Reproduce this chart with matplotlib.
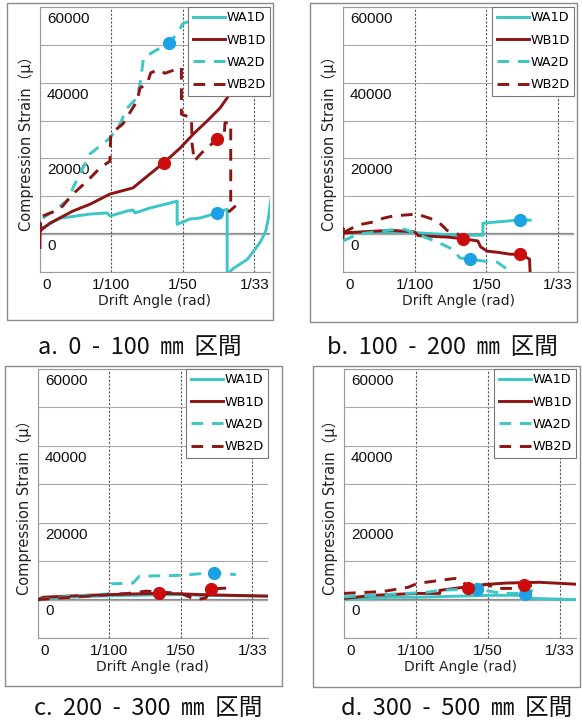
import matplotlib
matplotlib.use("Agg")
import matplotlib.pyplot as plt
from matplotlib.patches import Rectangle
from matplotlib.transforms import ScaledTranslation

# ---------------- data ----------------
x_tick_vals = [0, 0.01, 0.02, 0.03]
x_tick_labels = ["0", "1/100", "1/50", "1/33"]
y_label_vals = [0, 20000, 40000, 60000]
y_label_text = ["0", "20000", "40000", "60000"]
series_names = ["WA1D", "WB1D", "WA2D", "WB2D"]
captions = ["a.  0  -  100  ㎜  区間", "b.  100  -  200  ㎜  区間",
            "c.  200  -  300  ㎜  区間", "d.  300  -  500  ㎜  区間"]

# panel a (0-100 mm)
a_wa1d_x = [0, .0028, .0070, .0094, .0098, .0122, .0130, .0133, .0154, .0192, .0192, .0210, .0225,
            .0248, .0262, .0262, .0271, .0290, .0300, .0309, .0316, .0320, .0323]
a_wa1d_y = [1300, 4200, 5300, 5600, 4800, 6100, 6400, 5600, 6900, 8700, 2600, 4000, 4300,
            5600, 6600, -10600, -9000, -6700, -4300, -1900, 800, 4500, 9000]
a_wb1d_x = [0, 0, 0.0001, .0014, .0046, .0070, .0098, .0130, .0154, .0173, .0196, .0215, .0234, .0252, .0262, .0270]
a_wb1d_y = [-3500, 3000, 1000, 2900, 6100, 7900, 10600, 12200, 15900, 18800, 22700, 26500, 29900, 33300, 36000, 38500]
a_wa2d_x = [0.0004, .0028, .0042, .0046, .0056, .0070, .0098, .0112, .0122, .0136, .0140, .0145, .0161, .0180, .0192, .0200, .0210]
a_wa2d_y = [4200, 7400, 9500, 12200, 15900, 21200, 25400, 29100, 33300, 36000, 39700, 46600, 48400, 50500, 52900, 55600, 56300]
a_wb2d_x = [0.0004, .0028, .0046, .0066, .0084, .0098, .0099, .0116, .0136, .0140, .0150, .0155, .0165, .0175, .0196, .0198,
            .0198, .0212, .0213, .0216, .0226, .0248, .0258, .0259, .0267, .0267, .0265, .0274]
a_wb2d_y = [4800, 6600, 10600, 14000, 17500, 19300, 26500, 29100, 35200, 38600, 39700, 42600, 43400, 42500, 43900, 44000,
            31700, 30700, 23800, 19300, 21400, 25100, 26500, 29400, 29400, 9000, 6000, 7500]
a_wa_mk_x = [.0180, .0248]
a_wa_mk_y = [50500, 5600]
a_wb_mk_x = [.0173, .0248]
a_wb_mk_y = [18800, 25100]

# panel b (100-200 mm)
b_wa1d_x = [0, .0067, .0100, .0160, .0195, .0195, .0226, .0243, .0261]
b_wa1d_y = [400, 600, 400, -300, -300, 2900, 3400, 3700, 3700]
b_wb1d_x = [0, 0, 0, .0035, .0067, .0100, .0105, .0147, .0167, .0188, .0192, .0201, .0216, .0233, .0247, .0260, .0261]
b_wb1d_y = [-1500, 1500, 300, 700, 1000, 600, -400, -800, -1200, -1800, -3400, -4500, -4800, -5300, -5300, -6600, -11000]
b_wa2d_x = [0, .0021, .0066, .0086, .0103, .0117, .0135, .0153, .0163, .0177, .0195, .0215, .0233]
b_wa2d_y = [-1800, 0, 1100, 1300, 0, -1000, -2400, -4000, -6300, -6600, -7100, -7400, -9800]
b_wb2d_x = [0, .0020, .0042, .0056, .0070, .0103, .0121, .0135, .0145, .0160, .0167]
b_wb2d_y = [300, 2400, 3200, 4200, 4800, 5300, 4200, 2900, 1000, 0, -1000]
b_wa_mk_x = [.0177, .0247]
b_wa_mk_y = [-6600, 3700]
b_wb_mk_x = [.0167, .0247]
b_wb_mk_y = [-1200, -5300]

# panel c (200-300 mm)
c_wa1d_x = [0, .0007, .0040, .0100, .0165, .0200, .0226, .0321]
c_wa1d_y = [-300, 300, 600, 1000, 1200, 1300, 1100, 900]
c_wb1d_x = [0, .0007, .0040, .0100, .0165, .0200, .0226, .0321]
c_wb1d_y = [0, 600, 900, 1300, 1600, 1500, 1300, 900]
c_wa2d_x = [0, .0040, .0100, .0102, .0133, .0142, .0200, .0244, .0277]
c_wa2d_y = [0, 800, 1500, 4100, 4300, 6100, 6300, 7000, 6500]
c_wb2d_x = [0, .0100, .0133, .0151, .0200, .0221, .0235, .0242, .0267, .0274]
c_wb2d_y = [0, 1300, 1700, 2200, 1600, 0, 400, 2800, 3000, 2200]
c_wa_mk_x = [.0247]
c_wa_mk_y = [7000]
c_wb_mk_x = [.0170, .0242]
c_wb_mk_y = [1600, 2800]

# panel d (300-500 mm)
d_wa1d_x = [0, .0064, .0101, .0202, .0253, .0262, .0317, .0323]
d_wa1d_y = [0, 600, 600, 1100, 1100, 300, 0, 0]
d_wb1d_x = [0, .0040, .0101, .0133, .0133, .0178, .0202, .0225, .0271, .0322]
d_wb1d_y = [300, 1100, 1600, 1600, 2400, 3500, 4000, 4300, 4500, 4000]
d_wa2d_x = [0, .0087, .0115, .0133, .0170, .0185, .0220, .0250, .0262]
d_wa2d_y = [700, 1600, 1900, 2400, 2700, 2700, 1600, 1600, 2400]
d_wb2d_x = [0, .0054, .0089, .0102, .0133, .0154, .0165, .0172, .0198, .0212, .0234, .0250, .0267]
d_wb2d_y = [1600, 2100, 3200, 4200, 5000, 5500, 4800, 2900, 4000, 2900, 2900, 3700, 3500]
d_wa_mk_x = [.0185, .0251]
d_wa_mk_y = [2700, 1400]
d_wb_mk_x = [.0172, .0250]
d_wb_mk_y = [2900, 3700]

panels = [
    dict(lines=[(a_wa1d_x, a_wa1d_y), (a_wb1d_x, a_wb1d_y), (a_wa2d_x, a_wa2d_y), (a_wb2d_x, a_wb2d_y)],
         wa_mk=(a_wa_mk_x, a_wa_mk_y), wb_mk=(a_wb_mk_x, a_wb_mk_y)),
    dict(lines=[(b_wa1d_x, b_wa1d_y), (b_wb1d_x, b_wb1d_y), (b_wa2d_x, b_wa2d_y), (b_wb2d_x, b_wb2d_y)],
         wa_mk=(b_wa_mk_x, b_wa_mk_y), wb_mk=(b_wb_mk_x, b_wb_mk_y)),
    dict(lines=[(c_wa1d_x, c_wa1d_y), (c_wb1d_x, c_wb1d_y), (c_wa2d_x, c_wa2d_y), (c_wb2d_x, c_wb2d_y)],
         wa_mk=(c_wa_mk_x, c_wa_mk_y), wb_mk=(c_wb_mk_x, c_wb_mk_y)),
    dict(lines=[(d_wa1d_x, d_wa1d_y), (d_wb1d_x, d_wb1d_y), (d_wa2d_x, d_wa2d_y), (d_wb2d_x, d_wb2d_y)],
         wa_mk=(d_wa_mk_x, d_wa_mk_y), wb_mk=(d_wb_mk_x, d_wb_mk_y)),
]

# ---------------- layout (pixels) ----------------
W, H = 582, 722
axes_px = [(40, 7, 270, 272), (343, 7, 574, 272), (38, 369, 268, 638), (344, 369, 576, 638)]
frames_px = [(7, 3, 273, 320), (310, 3, 577, 322), (5, 366, 282, 686), (313, 366, 580, 687)]
caption_px = [(140, 347), (442, 347), (148, 708), (457, 708)]

CYAN = "#3CC6C6"
DRED = "#8E1414"
MK_BLUE = "#1CA2E4"
MK_RED = "#CC0C0C"
styles = [dict(color=CYAN, ls="-"), dict(color=DRED, ls="-"),
          dict(color=CYAN, dashes=(4, 3)), dict(color=DRED, dashes=(4, 3))]

fig = plt.figure(figsize=(W / 100, H / 100), dpi=100)

for (fx0, fy0, fx1, fy1) in frames_px:
    fig.patches.append(Rectangle((fx0 / W, 1 - fy1 / H), (fx1 - fx0) / W, (fy1 - fy0) / H,
                                 transform=fig.transFigure, fill=False, edgecolor="#8a8a8a", lw=1.0))

for i, p in enumerate(panels):
    x0, y0, x1, y1 = axes_px[i]
    ax = fig.add_axes([x0 / W, 1 - y1 / H, (x1 - x0) / W, (y1 - y0) / H])
    ax.set_xlim(0, 0.0322)
    ax.set_ylim(-10000, 60000)
    ax.set_yticks(list(range(-10000, 60001, 10000)))
    ax.set_yticklabels([])
    ax.tick_params(axis="y", length=0)
    ax.set_xticks(x_tick_vals)
    ax.set_xticklabels(x_tick_labels, fontsize=11, family="Liberation Sans", color="#111111")
    ax.tick_params(axis="x", length=0, pad=4)
    lbl0 = ax.get_xticklabels()[0]
    lbl0.set_transform(lbl0.get_transform() + ScaledTranslation(5 / 72, 0, fig.dpi_scale_trans))
    ax.grid(axis="y", color="#a8a8a8", lw=0.8, ls="-")
    ax.grid(axis="x", color="#555555", lw=0.8, ls=(0, (2, 1.5)))
    ax.axhline(0, color="#8c8c8c", lw=1.6, zorder=1)
    for side in ["left", "top", "bottom"]:
        ax.spines[side].set_color("#9a9a9a")
        ax.spines[side].set_linewidth(0.8)
    ax.spines["right"].set_visible(False)

    for v, t in zip(y_label_vals, y_label_text):
        ax.annotate(t, xy=(0, v), xycoords=("axes fraction", "data"), xytext=(5, -3.5),
                    textcoords="offset points", ha="left", va="top", fontsize=11,
                    family="Liberation Sans", color="#111111", zorder=2)

    handles = []
    for (xs, ys), name, st in zip(p["lines"], series_names, styles):
        ln, = ax.plot(xs, ys, lw=2.1, label=name, zorder=3, **st)
        handles.append(ln)
    ax.plot(p["wa_mk"][0], p["wa_mk"][1], ls="none", marker="o", ms=8.5, color=MK_BLUE, zorder=4)
    ax.plot(p["wb_mk"][0], p["wb_mk"][1], ls="none", marker="o", ms=8.5, color=MK_RED, zorder=4)

    ax.set_xlabel("Drift Angle (rad)", fontsize=10, labelpad=2, color="#222222")
    ax.set_ylabel("Compression Strain（μ）", fontsize=10.5, color="#222222",
                  family=["DejaVu Sans", "Noto Sans CJK JP"])
    ax.yaxis.set_label_coords(-0.028, 0.5)

    leg = ax.legend(handles=handles, loc="upper right", borderaxespad=0, fontsize=9.2,
                    handlelength=2.5, handletextpad=0.1, labelspacing=0.72, borderpad=0.35,
                    fancybox=False, framealpha=1, edgecolor="#777777")
    leg.get_frame().set_linewidth(0.8)
    leg.set_zorder(10)

    cx, cy = caption_px[i]
    fig.text(cx / W, 1 - cy / H, captions[i], ha="center", va="center", fontsize=17,
             family=["Noto Sans CJK JP", "DejaVu Sans"], color="#111111")

fig.savefig("out.png", dpi=100)
